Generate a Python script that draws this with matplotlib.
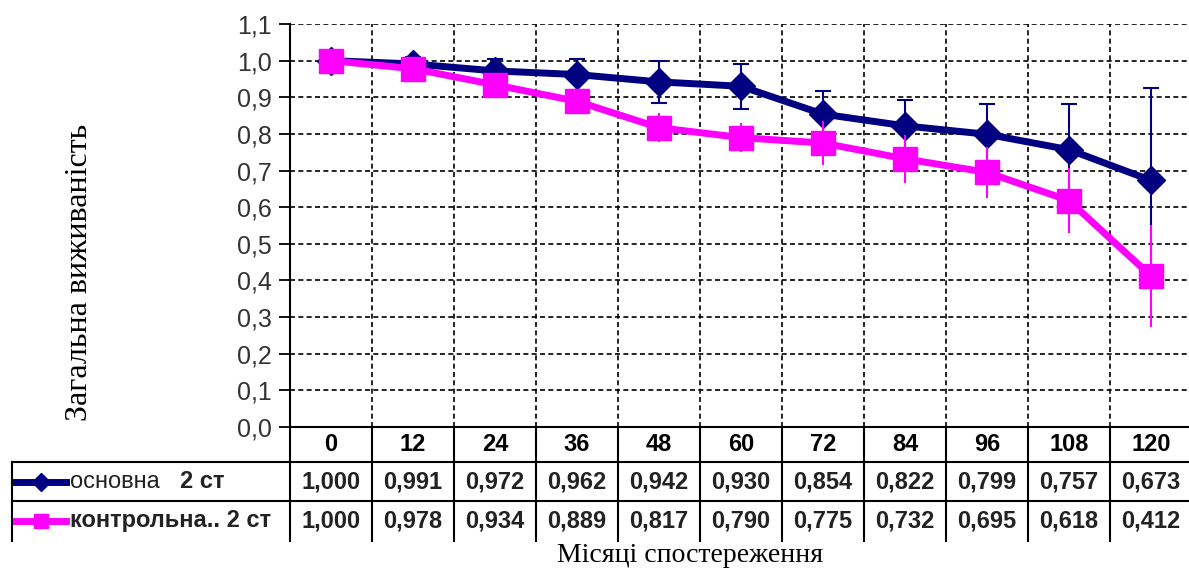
import matplotlib
matplotlib.use("Agg")
import matplotlib.pyplot as plt
from matplotlib import transforms
from matplotlib.lines import Line2D

# Survival by month of follow-up
months = [0, 12, 24, 36, 48, 60, 72, 84, 96, 108, 120]
main_surv = [1.000, 0.991, 0.972, 0.962, 0.942, 0.930, 0.854, 0.822, 0.799, 0.757, 0.673]
ctrl_surv = [1.000, 0.978, 0.934, 0.889, 0.817, 0.790, 0.775, 0.732, 0.695, 0.618, 0.412]
main_err = [0.025, 0.020, 0.033, 0.043, 0.058, 0.062, 0.064, 0.071, 0.084, 0.126, 0.251]
ctrl_err = [0.000, 0.010, 0.020, 0.030, 0.040, 0.040, 0.060, 0.065, 0.070, 0.088, 0.138]
series_labels = [("основна   ", "2 ст"), ("контрольна.. 2 ст", "")]
y_ticks = [0.0, 0.1, 0.2, 0.3, 0.4, 0.5, 0.6, 0.7, 0.8, 0.9, 1.0, 1.1]

NAVY = "#000080"
PINK = "#FF00FF"
SANS = ["Liberation Sans", "DejaVu Sans"]
SERIF = ["Liberation Serif", "DejaVu Serif"]

W, H = 1189, 571
fig = plt.figure(figsize=(W / 100, H / 100), dpi=100)
ax = fig.add_axes([290 / W, 1 - 427 / H, (1192 - 290) / W, (427 - 24) / H])

x = list(range(len(months)))
ax.set_xlim(-0.5, len(months) - 0.5)
ax.set_ylim(0, 1.1)

# grid
for yv in y_ticks[1:]:
    ax.axhline(yv, color="black", lw=1.2, ls=(0, (3, 2)), zorder=1)
for i in range(len(months)):
    ax.axvline(i + 0.5, color="black", lw=1.2, ls=(0, (3, 2)), zorder=1)

ax.errorbar(x, main_surv, yerr=main_err, color=NAVY, lw=5, marker="D", ms=14,
            ecolor=NAVY, elinewidth=1.5, capsize=6, capthick=1.5, zorder=3)
ax.errorbar(x, ctrl_surv, yerr=ctrl_err, color=PINK, lw=5, marker="s", ms=17,
            ecolor=PINK, elinewidth=1.5, capsize=0, zorder=4)

for s in ["top", "right"]:
    ax.spines[s].set_visible(False)
ax.spines["left"].set_linewidth(1.5)
ax.spines["bottom"].set_linewidth(1.5)
ax.set_yticks(y_ticks)
ax.set_yticklabels([f"{v:.1f}".replace(".", ",") for v in y_ticks],
                   family=SANS, fontsize=18, color="#333333")
ax.tick_params(axis="y", direction="out", length=8, width=1.3, pad=5)
ax.set_xticks([])

# data table under the plot
tr = transforms.blended_transform_factory(ax.transData, fig.transFigure)
fy = lambda py: 1 - py / H
fx = lambda px: px / W
row_top = [427, 462, 501]
row_bot = [462, 501, 541]

for i in range(len(months)):
    fig.add_artist(Line2D([i + 0.5, i + 0.5], [fy(427), fy(541)], transform=tr,
                          color="black", lw=1.5))
fig.add_artist(Line2D([fx(290), fx(290)], [fy(427), fy(541)], color="black", lw=1.5))
fig.add_artist(Line2D([fx(12), fx(12)], [fy(462), fy(541)], color="black", lw=1.5))
for py in [462, 501]:
    fig.add_artist(Line2D([fx(12), 1.0], [fy(py), fy(py)], color="black", lw=1.5))

for i, m in enumerate(months):
    fig.text(i, fy((row_top[0] + row_bot[0]) / 2), str(m), transform=tr,
             ha="center", va="center", family=SANS, fontsize=17, fontweight="bold")
    for r, vals in enumerate([main_surv, ctrl_surv]):
        fig.text(i, fy((row_top[r + 1] + row_bot[r + 1]) / 2),
                 f"{vals[i]:.3f}".replace(".", ","), transform=tr,
                 ha="center", va="center", family=SANS, fontsize=17,
                 fontweight="bold", color="#222222")

# legend keys in the row headers
for r, (col, mk, ms) in enumerate([(NAVY, "D", 9), (PINK, "s", 10)]):
    yc = fy((row_top[r + 1] + row_bot[r + 1]) / 2)
    fig.add_artist(Line2D([fx(16), fx(66)], [yc, yc], color=col, lw=5))
    fig.add_artist(Line2D([fx(41)], [yc], color=col, marker=mk, ms=ms, lw=0))
    plain, bold = series_labels[r]
    if bold:
        t = fig.text(fx(70), yc, plain, ha="left", va="center", family=SANS,
                     fontsize=17, color="#222222")
        fig.canvas.draw()
        bb = t.get_window_extent()
        fig.text(bb.x1 / W, yc, bold, ha="left", va="center", family=SANS,
                 fontsize=17, fontweight="bold", color="#222222")
    else:
        fig.text(fx(70), yc, plain, ha="left", va="center", family=SANS,
                 fontsize=17, fontweight="bold", color="#222222")

fig.text(fx(80), fy(272), "Загальна виживаність", rotation=90, ha="center",
         va="center", family=SERIF, fontsize=23)
fig.text(fx(690), fy(556), "Місяці спостереження", ha="center", va="center",
         family=SERIF, fontsize=20)

fig.savefig("out.png", dpi=100)
